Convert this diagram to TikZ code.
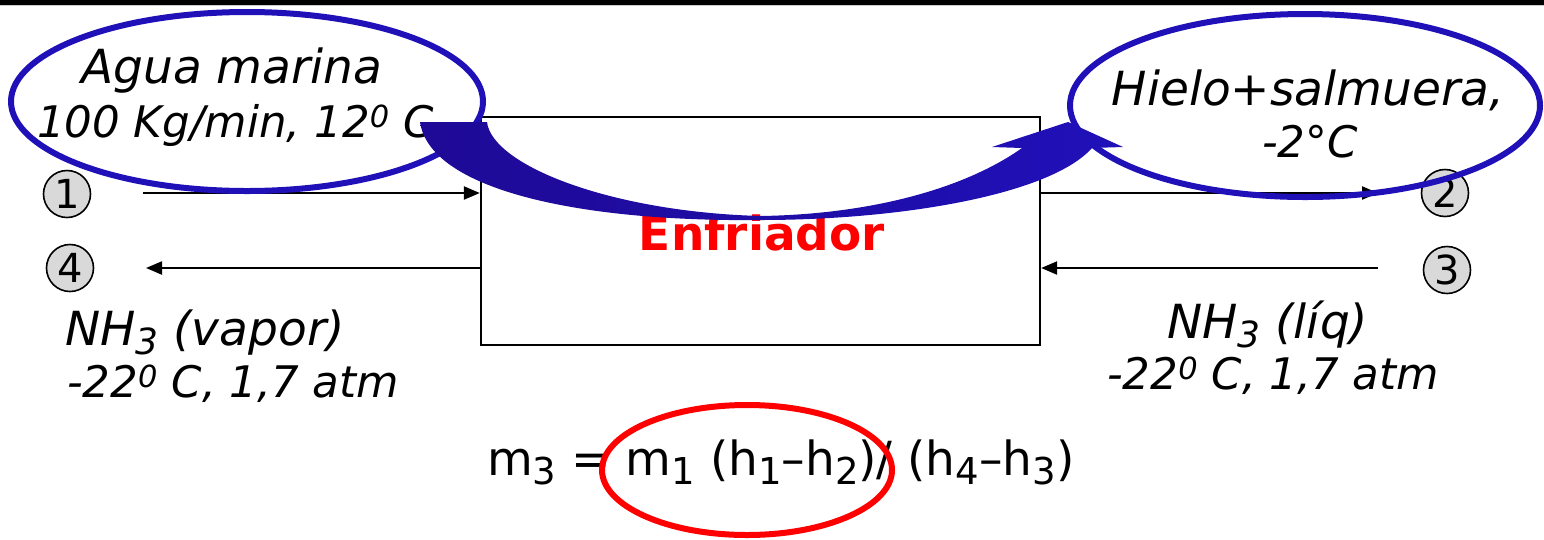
\documentclass[tikz,border=0pt]{standalone}
\usepackage{fontspec}
\setmainfont{DejaVu Sans}
\usetikzlibrary{arrows.meta}
\definecolor{eblue}{RGB}{32,16,184}
\definecolor{dblue}{RGB}{30,10,150}
\definecolor{cgray}{RGB}{217,217,217}
\definecolor{ered}{RGB}{255,0,0}
\newcommand{\lowdig}[2]{\raisebox{-0.2em}{\fontsize{#1}{#1}\selectfont #2}}
\begin{document}
\begin{tikzpicture}[x=1pt,y=-1pt,
  boxline/.style={line width=2.3pt, draw=black},
  flow/.style={line width=2.3pt, -{Triangle[length=16pt,width=13pt]}},
  numc/.style={circle, draw=black, line width=1.6pt, fill=cgray, minimum size=47pt, inner sep=0pt, font=\fontsize{40}{40}\selectfont},
  bigit/.style={inner sep=0pt, font=\itshape\fontsize{47}{56}\selectfont},
  midit/.style={inner sep=0pt, font=\itshape\fontsize{43.5}{52}\selectfont},
  oval/.style={draw=eblue, line width=6pt},
  redoval/.style={draw=ered, line width=6pt},
]
\useasboundingbox (0,0) rectangle (1544,539);
% top bar
\fill[black] (0,0) rectangle (1544,5);
\draw[gray!40, line width=0.8pt] (0,5.6) -- (1544,5.6);

% main box
\node[boxline, minimum width=559pt, minimum height=228pt, inner sep=0pt] (cooler) at (760.5,231) {};
\node[anchor=base, inner sep=0pt, text=ered, font=\bfseries\fontsize{47}{56}\selectfont] (clabel) at (762,250) {Enfriador};

% stream ends
\coordinate (in1) at (143,193);
\coordinate (out2) at (1378,193);
\coordinate (in3) at (1378,268);
\coordinate (out4) at (146,268);
\draw[flow] (in1) -- (in1 -| cooler.west);
\draw[flow] (out2 -| cooler.east) -- (out2);
\draw[flow] (in3) -- (in3 -| cooler.east);
\draw[flow] (out4 -| cooler.west) -- (out4);

% circled numbers
\node[numc] (n1) at (67,194) {1};
\node[numc] (n4) at (70,268) {4};
\node[numc] (n2) at (1445,193) {2};
\node[numc] (n3) at (1447,270) {3};

% lower labels
\node[bigit, anchor=base west] (t4a) at (65,345) {NH\lowdig{36}{3} (vapor)};
\node[midit, anchor=base west] (t4b) at (67,397) {-22\textsuperscript{0} C, 1,7 atm};
\node[bigit, anchor=base west] (t3a) at (1167,338) {NH\lowdig{36}{3} (líq)};
\node[midit, anchor=base west] (t3b) at (1107,389) {-22\textsuperscript{0} C, 1,7 atm};

% left callout
\draw[oval] (247,101.5) ellipse [x radius=236pt, y radius=89.5pt];
\node[bigit, anchor=base] (t1a) at (232,83) {Agua marina};
\node[midit, anchor=base west] (t1b) at (37,137) {100 Kg/min, 12\textsuperscript{0} C};

% curved blue arrow
\shade[left color=dblue, right color=eblue]
  (420,122) .. controls (430,190) and (580,222) .. (761,220)
  .. controls (900,220) and (1050,195) .. (1092,148)
  -- (1123,147) -- (1068,122) -- (992,147) -- (1022,148)
  .. controls (970,185) and (880,214) .. (761,216)
  .. controls (610,212) and (492,165) .. (487,122) -- cycle;

% right callout
\draw[oval] (1305,105.5) ellipse [x radius=235pt, y radius=91.5pt];
\node[bigit, anchor=base] (t2a) at (1308,105) {Hielo+salmuera,};
\node[midit, anchor=base] (t2b) at (1310,157) {-2°C};

% formula
\node[anchor=base west, inner sep=0pt, font=\fontsize{47}{56}\selectfont] (eq) at (487,475)
  {m\lowdig{37}{3} = m\lowdig{37}{1} (h\lowdig{37}{1}–h\lowdig{37}{2})/ (h\lowdig{37}{4}–h\lowdig{37}{3})};
\draw[redoval] (747,470) ellipse [x radius=145pt, y radius=65pt];
\end{tikzpicture}
\end{document}
